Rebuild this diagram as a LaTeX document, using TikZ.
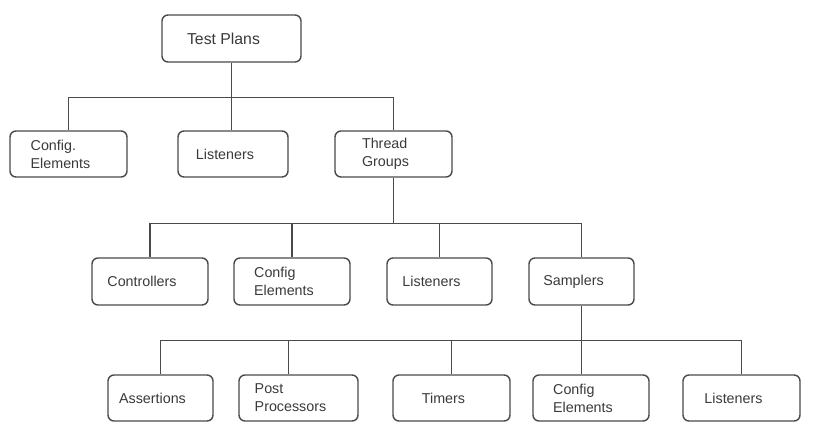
\documentclass[tikz,border=0pt]{standalone}
\usepackage{fontspec}
\setmainfont{Liberation Sans}
\definecolor{linegray}{HTML}{4A4A4A}
\definecolor{textgray}{HTML}{3A3A3A}
\tikzstyle{block} = [rectangle,
                    rounded corners=6pt,
                    draw=linegray,
                    line width=1.4pt,
                    fill=white,
                    minimum height=46pt,
                    inner sep=0pt]
\tikzstyle{caption} = [text=textgray,
                    font=\fontsize{14.3}{18}\selectfont,
                    align=left,
                    xshift=-8pt]
\tikzstyle{conn} = [draw=linegray, line width=1.3pt]

\begin{document}
\begin{tikzpicture}[x=1pt, y=-1pt]
    \useasboundingbox (0,0) rectangle (816,436);
    % root
    \node (tp) [block, minimum width=139pt, minimum height=47pt,
      label={[caption, font=\fontsize{15.8}{18}\selectfont]center:Test Plans}] at (231.5,38.5) {};
    % first level
    \node (cfg1) [block, minimum width=117pt, label={[caption]center:{Config.\\Elements}}] at (68.5,154) {};
    \node (lis1) [block, minimum width=110pt, label={[caption]center:Listeners}] at (233,154) {};
    \node (tg) [block, minimum width=117pt, label={[caption]center:{Thread\\Groups}}] at (393.5,154) {};
    % thread group children
    \node (ctl) [block, minimum width=116pt, minimum height=47pt, label={[caption]center:Controllers}] at (150,281.5) {};
    \node (cfg2) [block, minimum width=116pt, minimum height=47pt, label={[caption]center:{Config\\Elements}}] at (292,281.5) {};
    \node (lis2) [block, minimum width=105pt, minimum height=47pt, label={[caption]center:Listeners}] at (439.5,281.5) {};
    \node (smp) [block, minimum width=105pt, minimum height=47pt, label={[caption]center:Samplers}] at (581.5,281.5) {};
    % sampler children
    \node (asr) [block, minimum width=105pt, label={[caption]center:Assertions}] at (160.5,398) {};
    \node (pp) [block, minimum width=119pt, label={[caption]center:{Post\\Processors}}] at (298.5,398) {};
    \node (tmr) [block, minimum width=117pt, label={[caption]center:Timers}] at (451.5,398) {};
    \node (cfg3) [block, minimum width=116pt, label={[caption]center:{Config\\Elements}}] at (591,398) {};
    \node (lis3) [block, minimum width=117pt, label={[caption]center:Listeners}] at (741.5,398) {};
    % connectors
    \path[conn]
      (tp.south) -- ++(0,35) -| (cfg1.north)
      (tp.south) -- ++(0,35) -| (tg.north)
      (tp.south) -- (tp.south |- lis1.north)
      (tg.south) -- ++(0,46) -| (ctl.north)
      (tg.south) -- ++(0,46) -| (cfg2.north)
      (tg.south) -- ++(0,46) -| (lis2.north)
      (tg.south) -- ++(0,46) -| (smp.north)
      (smp.south) -- ++(0,35) -| (asr.north)
      (smp.south) -- ++(0,35) -| ([xshift=-10pt]pp.north)
      (smp.south) -- ++(0,35) -| (tmr.north)
      (smp.south) -- ++(0,35) -| (lis3.north)
      (smp.south) -- (smp.south |- cfg3.north);
  \end{tikzpicture}
\end{document}
